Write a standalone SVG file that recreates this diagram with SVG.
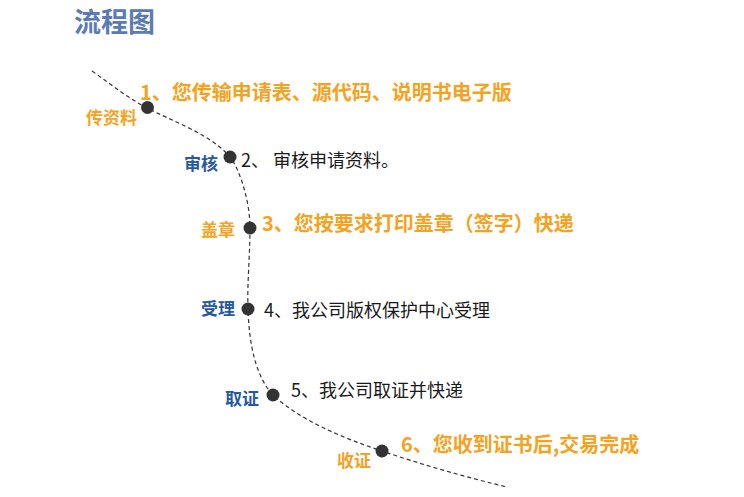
<svg xmlns="http://www.w3.org/2000/svg" width="744" height="497" viewBox="0 0 744 497">
<style>
text{font-family:"Noto Sans CJK SC","Noto Sans",sans-serif}
.title{font-size:27px;font-weight:700;fill:#5b7bb5}
.big{font-size:20px;font-weight:700;fill:#f5a21f}
.norm{font-size:18px;font-weight:400;fill:#1a1a1a}
.lo{font-size:17px;font-weight:700;fill:#f5a21f}
.lb{font-size:17px;font-weight:700;fill:#2858a0}
.dot{fill:#333333}
.line{fill:none;stroke:#333333;stroke-width:1.2;stroke-dasharray:4 3}
</style>
<rect width="744" height="497" fill="#ffffff"/>
<text class="title" x="74" y="32">流程图</text>
<g id="connectors">
<path class="line" d="M92,71 C112,85 128,98 147,108 C172,121 212,135 230,157 C239,168 250,200 250,228 C250,255 247,285 248,308 C249,345 256,377 273,395 C300,420 340,437 382,451 C420,464 465,477 507,487"/>
</g>
<g id="step1">
<circle class="dot" cx="147.5" cy="107.5" r="6.5"/>
<text class="lo" x="86" y="124">传资料</text>
<text class="big" x="140" y="100">1、您传输申请表、源代码、说明书电子版</text>
</g>
<g id="step2">
<circle class="dot" cx="230" cy="157" r="6.5"/>
<text class="lb" x="184" y="170">审核</text>
<text class="norm" x="241" y="167">2、 审核申请资料。</text>
</g>
<g id="step3">
<circle class="dot" cx="250" cy="228" r="6.5"/>
<text class="lo" x="201" y="236">盖章</text>
<text class="big" x="262" y="231">3、您按要求打印盖章（签字）快递</text>
</g>
<g id="step4">
<circle class="dot" cx="248" cy="309" r="6.5"/>
<text class="lb" x="201" y="315">受理</text>
<text class="norm" x="264" y="317">4、我公司版权保护中心受理</text>
</g>
<g id="step5">
<circle class="dot" cx="273" cy="395" r="6.5"/>
<text class="lb" x="225" y="405">取证</text>
<text class="norm" x="291" y="397">5、我公司取证并快递</text>
</g>
<g id="step6">
<circle class="dot" cx="382" cy="451" r="6.5"/>
<text class="lo" x="337" y="467">收证</text>
<text class="big" x="401" y="452">6、您收到证书后,交易完成</text>
</g>
</svg>
